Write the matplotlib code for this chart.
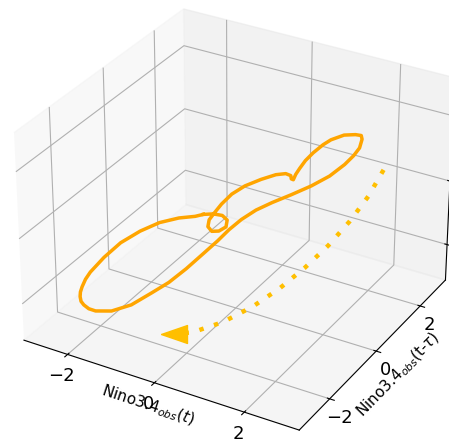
import numpy as np
import matplotlib
matplotlib.use('Agg')
import matplotlib.pyplot as plt

# trayectoria reconstruida (t, t-tau, tercera coordenada)
nino_t = [-0.532, -0.732, -1.178, -1.660, -2.063, -2.404, -2.591, -2.684, -2.674, -2.610,
          -2.546, -2.453, -2.320, -2.161, -1.929, -1.680, -1.215, -0.770, -0.429, -0.152,
          0.067, 0.254, 0.402, 0.505, 0.654, 0.878, 1.187, 1.571, 1.963, 2.282,
          2.484, 2.591, 2.635, 2.549, 2.461, 2.286, 1.980, 1.702, 1.550, 1.413,
          1.329, 1.315, 1.317, 1.351, 1.279, 1.201, 1.020, 0.759, 0.426, 0.092,
          -0.122, -0.216, -0.244, -0.254, -0.153, 0.051, 0.246, 0.366, 0.265, 0.034,
          -0.254, -0.532]
nino_t_tau = [-0.369, -0.352, -0.237, -0.195, -0.297, -0.513, -0.870, -1.258, -1.464, -1.698,
              -1.866, -2.026, -2.202, -2.350, -2.530, -2.671, -2.819, -2.795, -2.578, -2.389,
              -2.089, -1.732, -1.445, -1.172, -0.942, -0.763, -0.673, -0.616, -0.535, -0.401,
              -0.172, -0.010, 0.147, 0.421, 0.560, 0.663, 0.783, 0.771, 0.735, 0.587,
              0.422, 0.209, 0.044, -0.118, -0.066, 0.058, 0.188, 0.267, 0.271, 0.211,
              0.057, -0.191, -0.433, -0.624, -0.851, -1.055, -1.117, -1.045, -0.818, -0.605,
              -0.457, -0.369]
nino_z = [-0.084, -0.159, -0.309, -0.489, -0.669, -0.849, -0.999, -1.119, -1.160, -1.185,
          -1.196, -1.194, -1.179, -1.149, -1.097, -1.029, -0.879, -0.699, -0.519, -0.369,
          -0.219, -0.069, 0.051, 0.150, 0.258, 0.384, 0.528, 0.699, 0.879, 1.041,
          1.176, 1.275, 1.347, 1.374, 1.370, 1.320, 1.221, 1.104, 1.014, 0.915,
          0.834, 0.780, 0.744, 0.722, 0.704, 0.699, 0.654, 0.564, 0.429, 0.285,
          0.168, 0.078, 0.015, -0.030, -0.039, -0.003, 0.060, 0.123, 0.132, 0.087,
          0.006, -0.084]

# camino punteado que termina en la flecha
camino_t = [2.179, 2.173, 2.138, 2.041, 1.872, 1.646, 1.348, 0.956, 0.451, 0.055]
camino_t_tau = [2.190, 1.536, 0.807, 0.080, -0.567, -1.194, -1.741, -2.216, -2.548, -2.560]
camino_z = [0.30, 0.10, -0.05, -0.20, -0.35, -0.50, -0.65, -0.80, -0.95, -1.05]

ticks_xy = [-2, 0, 2]
ticks_z = [-1, 0, 1]

fig = plt.figure(figsize=(4.49, 4.44), dpi=100)
ax = fig.add_axes([-0.029, -0.0383, 1.0913, 1.1036], projection='3d')

ax.plot(nino_t, nino_t_tau, nino_z, color='orange', lw=2.5)
ax.plot(camino_t, camino_t_tau, camino_z, color='#FFBF00', lw=3.2, linestyle=(0, (1, 2.45)))
punta = [(-1, 0), (1, -0.69), (1, 0.69), (-1, 0)]
ax.plot(camino_t[-1:], camino_t_tau[-1:], camino_z[-1:], linestyle='none',
        marker=punta, markersize=18.7, color='#FFBF00')

ax.set_xlim(-3.03, 3.19)
ax.set_ylim(-3.25, 3.2)
ax.set_zlim(-1.57, 1.57)
ax.set_xticks(ticks_xy)
ax.set_yticks(ticks_xy)
ax.set_zticks(ticks_z)
ax.tick_params(labelsize=13, pad=-1.5)

ax.set_xlabel('Nino3.4$_{obs}(t)$', fontsize=11, labelpad=-10)
ax.set_ylabel('Nino3.4$_{obs}$(t-$\\tau$)', fontsize=11, labelpad=-6)

fig.savefig('out.png', dpi=100)
